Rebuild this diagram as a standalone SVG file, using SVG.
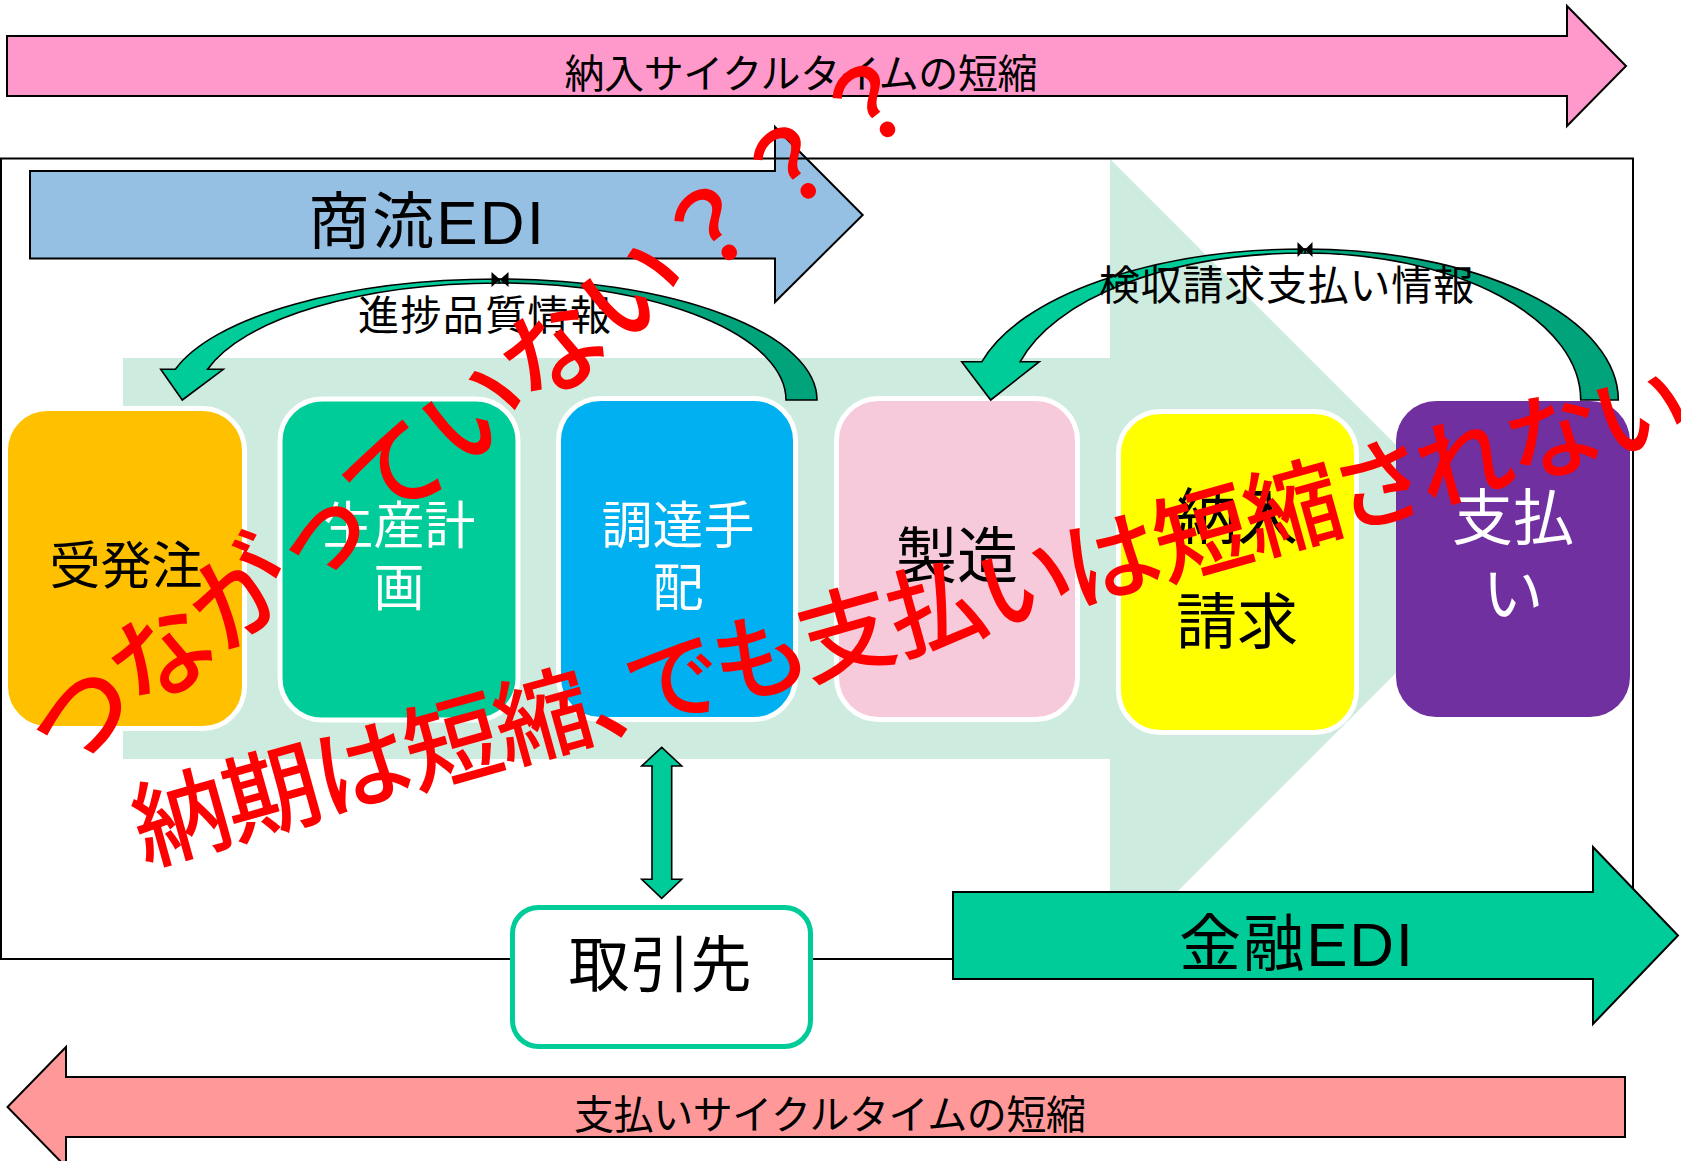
<svg xmlns="http://www.w3.org/2000/svg" width="1681" height="1161" viewBox="0 0 1681 1161">
<style>
.t{font-family:"Liberation Sans","Noto Sans CJK JP",sans-serif;text-anchor:middle}
.k{fill:#000}
.w{fill:#fff}
.blk{stroke:#000;stroke-width:2;stroke-linejoin:miter}
.node{stroke:#fff;stroke-width:5}
.red{font-family:"Noto Sans CJK JP",sans-serif;font-weight:500;fill:#ff0000;text-anchor:middle}
.palt{font-feature-settings:"palt" 1}
.lt{fill:#00cc99;stroke:#000;stroke-width:1.6}
.dk{fill:#00a37a;stroke:#000;stroke-width:1.6}
</style>
<rect width="1681" height="1161" fill="#fff"/>

<g id="flow-background">
<polygon points="123,358 1110,358 1110,159 1510,559 1110,959 1110,759 123,759" fill="#cdebde"/>
</g>

<g id="delivery-cycle">
<polygon class="blk" points="7,36 1567,36 1567,6 1626,66 1567,126 1567,96 7,96" fill="#ff99cc"/>
<text class="t k" x="801" y="88" font-size="40" textLength="473">納入サイクルタイムの短縮</text>
</g>

<g id="commerce-edi">
<polygon class="blk" points="30,171 775,171 775,127 862.7,215 775,302 775,258.5 30,258.5" fill="#95c0e3"/>
<text class="t k" x="426" y="244" font-size="62" textLength="236">商流EDI</text>
</g>

<g id="frame">
<rect x="1" y="158.5" width="1632" height="800.5" fill="none" stroke="#000" stroke-width="2"/>
</g>

<g id="node-order">
<rect class="node" x="5.5" y="408.5" width="239" height="320" rx="42" fill="#ffc000"/>
<text class="t k" x="126" y="584" font-size="51">受発注</text>
</g>
<g id="node-plan">
<rect class="node" x="280" y="399" width="238" height="321" rx="42" fill="#00cc99"/>
<text class="t w" x="399" y="544" font-size="51">生産計</text>
<text class="t w" x="399" y="606" font-size="51">画</text>
</g>
<g id="node-procure">
<rect class="node" x="558.5" y="398.5" width="237" height="321" rx="42" fill="#00b0f0"/>
<text class="t w" x="678" y="544" font-size="51">調達手</text>
<text class="t w" x="678" y="606" font-size="51">配</text>
</g>
<g id="node-make">
<rect class="node" x="836.5" y="398.5" width="241" height="321" rx="42" fill="#f7cadb"/>
<text class="t k" x="957" y="578" font-size="61">製造</text>
</g>
<g id="node-invoice">
<rect class="node" x="1118.5" y="411.5" width="238" height="321" rx="42" fill="#ffff00"/>
<text class="t k" x="1237" y="539" font-size="61">納入</text>
<text class="t k" x="1237" y="644" font-size="61">請求</text>
</g>
<g id="node-pay">
<rect x="1396" y="401" width="234" height="316" rx="40" fill="#7030a0"/>
<text class="t w" x="1513" y="540" font-size="61">支払</text>
<text class="t w" x="1513" y="616" font-size="61">い</text>
</g>

<g id="connectors">
<path class="dk" d="M499,279 A318 121 0 0 1 817,400 L786,400 A287 117 0 0 0 499,283 Z"/>
<path class="lt" d="M499,279 A334.5 121 0 0 0 175.4,369.3 L160.7,369.3 L182.3,400 L223.3,369.3 L207.6,369.3 A302 117 0 0 1 499,283 Z"/>
<path d="M491.5,272 L500,279.5 L491.5,287 Z M508.5,272 L500,279.5 L508.5,287 Z" fill="#000"/>
<text class="t k" x="484.5" y="330" font-size="41" textLength="253">進捗品質情報</text>

<path class="dk" d="M1305,249 A313.3 151 0 0 1 1618.3,400 L1580.7,400 A275.7 147 0 0 0 1305,253 Z"/>
<path class="lt" d="M1305,249 A334 151 0 0 0 981.9,361.7 L961.7,361.7 L990.7,400 L1039.3,361.7 L1020.2,361.7 A295 147 0 0 1 1305,253 Z"/>
<path d="M1297.5,242 L1305,249.5 L1297.5,257 Z M1312.5,242 L1305,249.5 L1312.5,257 Z" fill="#000"/>
<text class="t k" x="1286.5" y="300" font-size="41" textLength="375">検収請求支払い情報</text>

<polygon class="lt" points="661.7,747.3 681.7,766 671.7,766 671.7,879.3 681.7,879.3 661.7,898.3 641.7,879.3 652,879.3 652,766 641.7,766"/>
</g>

<g id="node-partner">
<rect x="512.5" y="907.5" width="298" height="139" rx="26" fill="#fff" stroke="#00cc99" stroke-width="5"/>
<text class="t k" x="660" y="987" font-size="61">取引先</text>
</g>

<g id="finance-edi">
<polygon class="blk" points="953,892 1593,892 1593,847 1678,935.5 1593,1024 1593,979 953,979" fill="#00cc99"/>
<text class="t k" x="1296" y="966" font-size="62" textLength="234">金融EDI</text>
</g>

<g id="payment-cycle">
<polygon class="blk" points="1625,1077 66,1077 66,1047 7.5,1107 66,1167 66,1137 1625,1137" fill="#ff9999"/>
<text class="t k" x="830" y="1129" font-size="40" textLength="512">支払いサイクルタイムの短縮</text>
</g>

<g id="annotation">
<text class="red" font-size="102" textLength="1099" transform="translate(475,409) rotate(-37.8)" x="0" y="39">つながっていない？？？</text>
<text class="red palt" font-size="96" textLength="1607" transform="translate(908.5,613.5) rotate(-15.55)" x="0" y="37">納期は短縮、でも支払いは短縮されない</text>
</g>
</svg>
